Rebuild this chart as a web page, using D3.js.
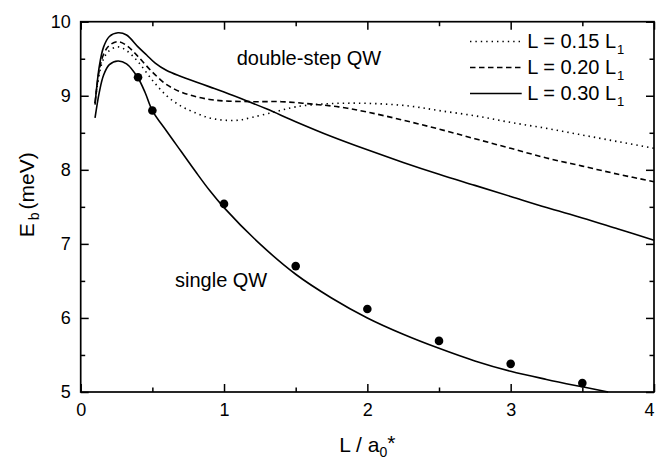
<!DOCTYPE html>
<html><head><meta charset="utf-8">
<script src="https://cdn.jsdelivr.net/npm/d3@7"></script>
<style>
body{margin:0;background:#fff}
svg{display:block}
text{font-family:"Liberation Sans",Arial,sans-serif;fill:#000}
</style>
</head><body>
<svg id="chart" width="656" height="460"></svg>
<script>
// ---- data ----
const xTicks = [0, 1, 2, 3, 4];
const yTicks = [5, 6, 7, 8, 9, 10];
const xMinor = [0.5, 1.5, 2.5, 3.5];
const yMinor = [5.5, 6.5, 7.5, 8.5, 9.5];

// L = 0.15 L1 (dotted)
const x015 = [0.1,0.13,0.16,0.2,0.26,0.32,0.4,0.5,0.6,0.7,0.8,0.9,1.0,1.1,1.2,1.35,1.5,1.7,1.9,2.1,2.3,2.5,2.75,3.0,3.25,3.5,3.75,4.0];
const y015 = [8.90,9.30,9.50,9.61,9.66,9.61,9.46,9.21,9.00,8.86,8.77,8.70,8.67,8.67,8.71,8.78,8.85,8.89,8.90,8.89,8.86,8.80,8.73,8.64,8.56,8.47,8.38,8.29];
// L = 0.20 L1 (dashed)
const x020 = [0.1,0.13,0.16,0.2,0.26,0.32,0.4,0.5,0.6,0.7,0.8,0.9,1.0,1.2,1.4,1.6,1.8,2.0,2.25,2.5,2.75,3.0,3.25,3.5,3.75,4.0];
const y020 = [8.90,9.35,9.56,9.68,9.73,9.68,9.53,9.32,9.15,9.05,8.99,8.95,8.93,8.92,8.92,8.89,8.85,8.78,8.67,8.55,8.42,8.29,8.16,8.05,7.94,7.84];
// L = 0.30 L1 (solid)
const x030 = [0.1,0.13,0.16,0.2,0.26,0.32,0.4,0.46,0.52,0.6,0.7,0.8,0.9,1.0,1.16,1.3,1.5,1.75,2.0,2.25,2.5,2.75,3.0,3.25,3.5,3.75,4.0];
const y030 = [8.88,9.40,9.66,9.80,9.85,9.82,9.66,9.55,9.44,9.34,9.26,9.19,9.12,9.05,8.93,8.82,8.65,8.45,8.27,8.10,7.94,7.79,7.64,7.49,7.35,7.20,7.05];
// single QW (solid)
const xSingle = [0.1,0.13,0.16,0.2,0.26,0.32,0.4,0.45,0.5,0.6,0.7,0.8,0.9,1.0,1.25,1.5,1.75,2.0,2.25,2.5,2.75,3.0,3.25,3.5,3.68];
const ySingle = [8.70,9.05,9.28,9.42,9.47,9.43,9.24,9.04,8.80,8.52,8.25,7.98,7.72,7.49,7.00,6.59,6.27,6.00,5.78,5.59,5.42,5.28,5.17,5.07,5.00];
// experimental points
const xDots = [0.4, 0.5, 1.0, 1.5, 2.0, 2.5, 3.0, 3.5];
const yDots = [9.25, 8.80, 7.54, 6.70, 6.12, 5.69, 5.38, 5.12];

const legendLabels = ["L = 0.15 L", "L = 0.20 L", "L = 0.30 L"];
const legendSub = "1";

// ---- layout ----
const svg = d3.select("#chart");
const x = d3.scaleLinear().domain([0, 4]).range([80.7, 654]);
const y = d3.scaleLinear().domain([5, 10]).range([392, 21.7]);

const line = d3.line().x(d => x(d[0])).y(d => y(d[1])).curve(d3.curveCatmullRom.alpha(0.5));
const zip = (a, b) => a.map((v, i) => [v, b[i]]);

const series = [
  {xs: x015, ys: y015, dash: "1.4,4"},
  {xs: x020, ys: y020, dash: "5.5,3.5"},
  {xs: x030, ys: y030, dash: null},
  {xs: xSingle, ys: ySingle, dash: null}
];

const plot = svg.append("g");
series.forEach(s => {
  plot.append("path")
    .attr("d", line(zip(s.xs, s.ys)))
    .attr("fill", "none")
    .attr("stroke", "#000")
    .attr("stroke-width", 1.6)
    .attr("stroke-dasharray", s.dash);
});

plot.selectAll("circle").data(zip(xDots, yDots)).enter().append("circle")
  .attr("cx", d => x(d[0])).attr("cy", d => y(d[1])).attr("r", 4.3).attr("fill", "#000");

// ---- axes ----
function styleAxis(g){ g.select(".domain").remove(); g.selectAll("line").attr("stroke","#000").attr("stroke-width",1.5); g.selectAll("text").attr("font-size",18).attr("font-family","Liberation Sans, Arial, sans-serif"); }

const xAxisG = svg.append("g").attr("transform", `translate(0,${y(5)})`)
  .call(d3.axisBottom(x).tickValues(xTicks).tickSize(-8).tickPadding(11).tickFormat(d3.format("d"))).call(styleAxis);
// keep the last label inside the page
xAxisG.selectAll(".tick text").filter(d => d === 4).attr("text-anchor", "end").attr("dx", 0);
svg.append("g").attr("transform", `translate(0,${y(5)})`)
  .call(d3.axisBottom(x).tickValues(xMinor).tickSize(-4.5).tickFormat("")).call(styleAxis);
svg.append("g").attr("transform", `translate(0,${y(10)})`)
  .call(d3.axisTop(x).tickValues(xTicks).tickSize(-8).tickFormat("")).call(styleAxis);
svg.append("g").attr("transform", `translate(0,${y(10)})`)
  .call(d3.axisTop(x).tickValues(xMinor).tickSize(-4.5).tickFormat("")).call(styleAxis);

svg.append("g").attr("transform", `translate(${x(0)},0)`)
  .call(d3.axisLeft(y).tickValues(yTicks).tickSize(-8).tickPadding(10).tickFormat(d3.format("d"))).call(styleAxis);
svg.append("g").attr("transform", `translate(${x(0)},0)`)
  .call(d3.axisLeft(y).tickValues(yMinor).tickSize(-4.5).tickFormat("")).call(styleAxis);
svg.append("g").attr("transform", `translate(${x(4)},0)`)
  .call(d3.axisRight(y).tickValues(yTicks).tickSize(-8).tickFormat("")).call(styleAxis);
svg.append("g").attr("transform", `translate(${x(4)},0)`)
  .call(d3.axisRight(y).tickValues(yMinor).tickSize(-4.5).tickFormat("")).call(styleAxis);

svg.append("rect")
  .attr("x", x(0)).attr("y", y(10))
  .attr("width", x(4) - x(0)).attr("height", y(5) - y(10))
  .attr("fill", "none").attr("stroke", "#000").attr("stroke-width", 1.7);

// ---- axis titles ----
const xt = svg.append("text").attr("x", (x(0) + x(4)) / 2).attr("y", 452).attr("text-anchor", "middle").attr("font-size", 21);
xt.append("tspan").text("L / a");
xt.append("tspan").attr("font-size", 14).attr("dy", 5).text("0");
xt.append("tspan").attr("dy", -7).text("*");

const yt = svg.append("text").attr("transform", `translate(34,${(y(5) + y(10)) / 2 - 12}) rotate(-90)`)
  .attr("text-anchor", "middle").attr("font-size", 21);
yt.append("tspan").text("E");
yt.append("tspan").attr("font-size", 14).attr("dy", 5).attr("dx", 3).text("b");
yt.append("tspan").attr("dy", -5).attr("dx", 3).text("(meV)");

// ---- annotations ----
svg.append("text").attr("x", 236.7).attr("y", 65).attr("font-size", 20).text("double-step QW");
svg.append("text").attr("x", 175).attr("y", 287).attr("font-size", 20).text("single QW");

// ---- legend ----
const legY = [41.5, 67.5, 93.5];
series.slice(0, 3).forEach((s, i) => {
  svg.append("line").attr("x1", 470).attr("x2", 521.7).attr("y1", legY[i]).attr("y2", legY[i])
    .attr("stroke", "#000").attr("stroke-width", 1.6).attr("stroke-dasharray", s.dash);
  const t = svg.append("text").attr("x", 527.3).attr("y", legY[i] + 6.8).attr("font-size", 20);
  t.append("tspan").text(legendLabels[i]);
  t.append("tspan").attr("font-size", 13).attr("dy", 6).attr("dx", 1).text(legendSub);
});
</script>
</body></html>
